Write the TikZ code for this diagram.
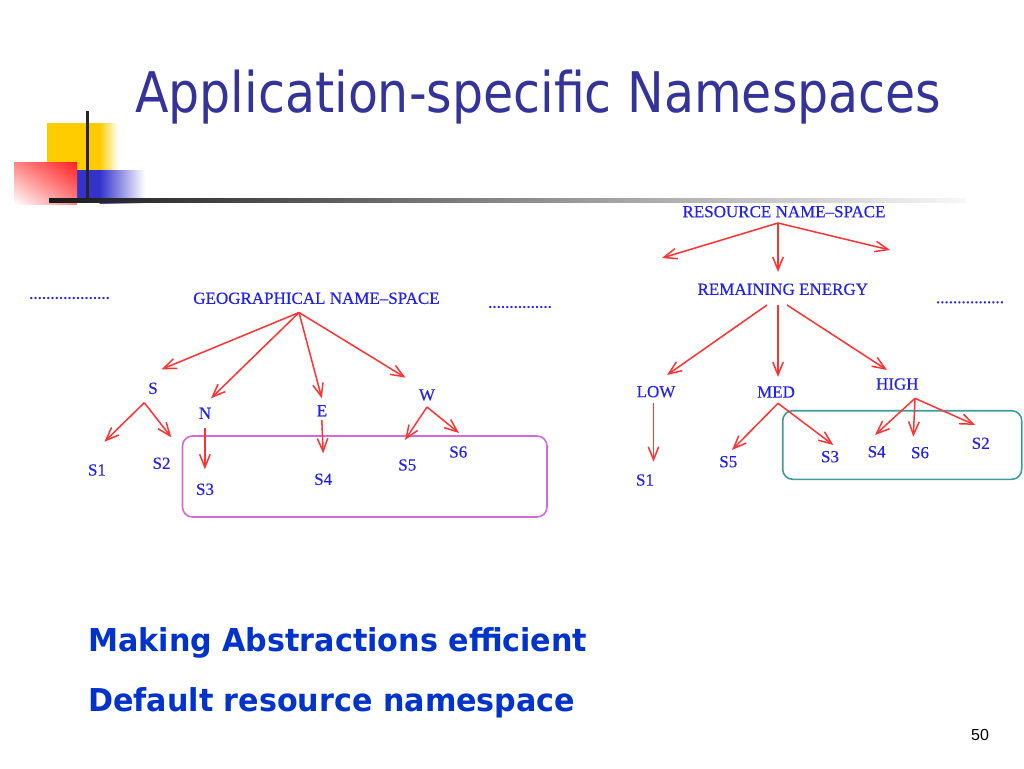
\documentclass[tikz,border=0pt]{standalone}
\usepackage{fontspec}
\usepackage{graphicx}
\setmainfont{Liberation Serif}
\newfontfamily\treefont{Liberation Serif}[FakeBold=0.4]
\newfontfamily\slidesans{DejaVu Sans}
\newfontfamily\numfont{Liberation Sans}
\usetikzlibrary{arrows.meta,shadings}
\definecolor{titleblue}{HTML}{333399}
\definecolor{bodyblue}{HTML}{0033CC}
\definecolor{treeblue}{HTML}{2222EE}
\definecolor{arrred}{HTML}{FF3333}
\definecolor{boxmag}{HTML}{D46AD4}
\definecolor{boxteal}{HTML}{3E9C9C}
\definecolor{logoyellow}{HTML}{FFCC00}
\definecolor{logored}{HTML}{FF2020}
\definecolor{logoblue}{HTML}{3333CC}
\begin{document}
\begin{tikzpicture}[x=1pt,y=-1pt,
  lbl/.style={inner sep=0pt, text=treeblue, font=\treefont\fontsize{17}{17}\selectfont},
  arr/.style={draw=arrred, line width=1.5pt, -{Straight Barb[length=13pt,width=10.5pt]}},
  grp/.style={rounded corners=10pt, line width=1.6pt},
  bodytext/.style={anchor=base west, inner sep=0pt, text=bodyblue, font=\slidesans\bfseries\fontsize{31.5}{31.5}\selectfont}]
\useasboundingbox (0,0) rectangle (1024,768);
\fill[white] (0,0) rectangle (1024,768);

% logo
\fill[logoyellow] (47,123) rectangle (100,170);
\shade[left color=logoyellow, right color=white] (99.5,123) rectangle (118,170);
\fill[logoblue] (77,170) rectangle (100,203);
\shade[left color=logoblue, right color=white] (99.5,170) rectangle (145,203);
\shade[upper left=logored!55!white, upper right=logored, lower left=white, lower right=logored!55!white] (14,162) rectangle (77,204);
\draw[line width=3pt, black!85] (87,111) -- (87,203);
\shade[left color=black!90, middle color=black!50, right color=black!3] (49,198.5) rectangle (965,202.5);

% title
\node[anchor=base west, inner sep=0pt, text=titleblue, font=\slidesans\fontsize{56}{56}\selectfont] (title) at (135,112) {\scalebox{0.875}[1]{Application-specific Namespaces}};

% group boxes
\draw[grp, draw=boxmag] (182.5,436) rectangle (547,517);
\draw[grp, draw=boxteal] (782.7,410.7) rectangle (1021.7,479.3);

% geographical name-space
\node[lbl] (geo) at (316.5,298.3) {GEOGRAPHICAL NAME–SPACE};
\node[lbl] (dotsl) at (69.5,298) {...................};
\node[lbl] (dotsm) at (520,307) {...............};
\node[lbl] (S) at (153,388.3) {S};
\node[lbl] (N) at (205,413.3) {N};
\node[lbl] (E) at (322,410.7) {E};
\node[lbl] (W) at (427,395) {W};
\node[lbl] (gS1) at (97,470) {S1};
\node[lbl] (gS2) at (161.6,463.3) {S2};
\node[lbl] (gS3) at (205,489.3) {S3};
\node[lbl] (gS4) at (323.2,479.3) {S4};
\node[lbl] (gS5) at (407.3,465) {S5};
\node[lbl] (gS6) at (458.3,452) {S6};

\coordinate (geoA) at (299,312.5);
\coordinate (tS) at (161.6,369.3);
\coordinate (tN) at (211,398.3);
\coordinate (tE) at (321.8,398.3);
\coordinate (tW) at (405.5,377.7);
\coordinate (sA) at (144.3,402.7);
\coordinate (tgS1) at (104.5,441.7);
\coordinate (tgS2) at (171.3,437.3);
\coordinate (nA) at (204.9,428.3);
\coordinate (tgS3) at (204.9,469.3);
\coordinate (eA) at (321.8,420);
\coordinate (tgS4) at (323.2,453.3);
\coordinate (wA) at (427,407);
\coordinate (tgS5) at (405,440);
\coordinate (tgS6) at (459,433);

\draw[arr] (geoA) -- (tS);
\draw[arr] (geoA) -- (tN);
\draw[arr] (geoA) -- (tE);
\draw[arr] (geoA) -- (tW);
\draw[arr] (sA) -- (tgS1);
\draw[arr] (sA) -- (tgS2);
\draw[arr] (nA) -- (tgS3);
\draw[arr] (eA) -- (tgS4);
\draw[arr] (wA) -- (tgS5);
\draw[arr] (wA) -- (tgS6);

% resource name-space
\node[lbl] (res) at (784,211.7) {RESOURCE NAME–SPACE};
\node[lbl] (rem) at (782.8,289.3) {REMAINING ENERGY};
\node[lbl] (dotsr) at (970,302.3) {................};
\node[lbl] (low) at (656,391.7) {LOW};
\node[lbl] (med) at (776,392) {MED};
\node[lbl] (high) at (897.3,384) {HIGH};
\node[lbl] (rS1) at (645,480) {S1};
\node[lbl] (rS5) at (728.3,461.7) {S5};
\node[lbl] (rS3) at (830,456.7) {S3};
\node[lbl] (rS4) at (876.7,451.7) {S4};
\node[lbl] (rS6) at (920,452.7) {S6};
\node[lbl] (rS2) at (980.7,443.3) {S2};

\coordinate (resA) at (778,223);
\coordinate (tresL) at (662,258);
\coordinate (tresM) at (778,272);
\coordinate (tresR) at (890,250);
\coordinate (remL) at (767,305);
\coordinate (remM) at (778,305);
\coordinate (remR) at (787,305);
\coordinate (tlow) at (667,375);
\coordinate (tmed) at (778,377);
\coordinate (thigh) at (887,370);
\coordinate (lowA) at (653.5,403.3);
\coordinate (trS1) at (653.5,461.7);
\coordinate (medA) at (778,403.3);
\coordinate (trS5) at (732,450);
\coordinate (trS3) at (833.3,445);
\coordinate (highA) at (915,398.3);
\coordinate (trS4) at (875,435);
\coordinate (trS6) at (913.3,436.7);
\coordinate (trS2) at (975,425);

\draw[arr] (resA) -- (tresL);
\draw[arr] (resA) -- (tresM);
\draw[arr] (resA) -- (tresR);
\draw[arr] (remL) -- (tlow);
\draw[arr] (remM) -- (tmed);
\draw[arr] (remR) -- (thigh);
\draw[arr] (lowA) -- (trS1);
\draw[arr] (medA) -- (trS5);
\draw[arr] (medA) -- (trS3);
\draw[arr] (highA) -- (trS4);
\draw[arr] (highA) -- (trS6);
\draw[arr] (highA) -- (trS2);

% bottom text
\node[bodytext] (b1) at (88,651) {\scalebox{0.958}[1]{Making Abstractions efficient}};
\node[bodytext] (b2) at (88,711.5) {\scalebox{0.958}[1]{Default resource namespace}};
\node[font=\numfont\fontsize{16}{16}\selectfont, inner sep=0pt] (pg) at (980,735) {50};
\end{tikzpicture}
\end{document}
